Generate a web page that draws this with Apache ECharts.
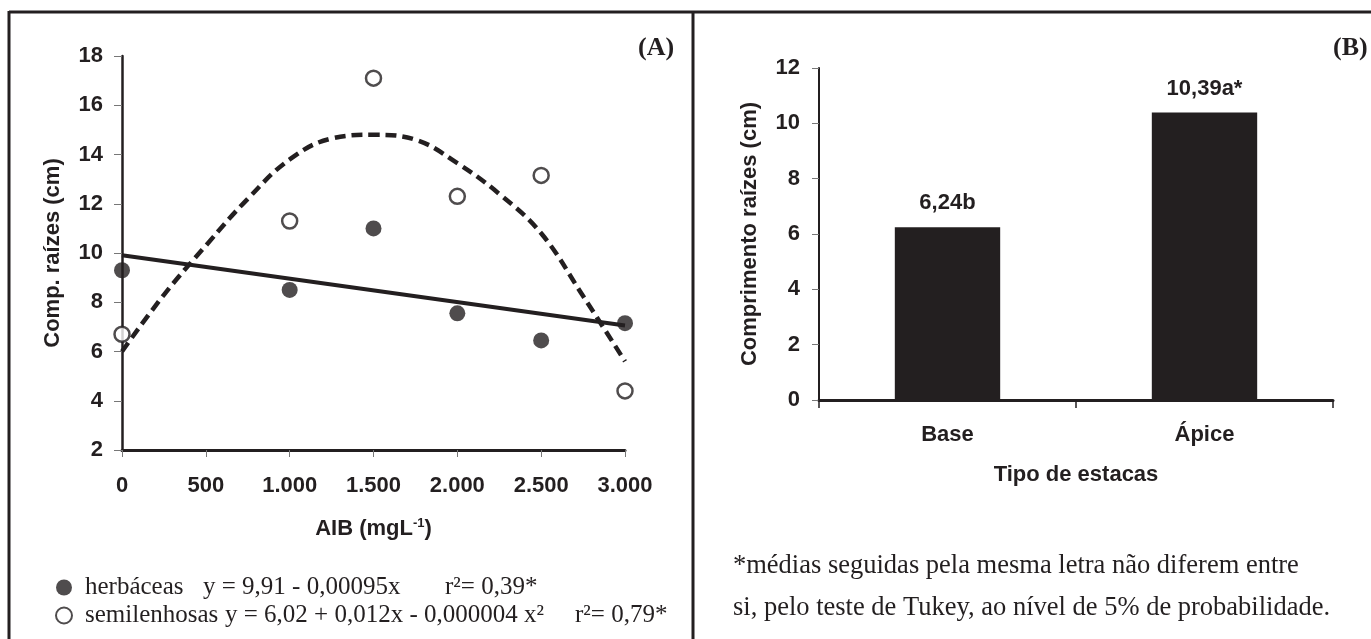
<!DOCTYPE html>
<html>
<head>
<meta charset="utf-8">
<script src="https://cdn.jsdelivr.net/npm/echarts@6/dist/echarts.min.js"></script>
<style>
html,body{margin:0;padding:0;background:#fff;}
#chart{width:1371px;height:639px;}
</style>
</head>
<body>
<div id="chart"></div>
<script>
// ---- Panel A data ----
var doses = [0, 1000, 1500, 2000, 2500, 3000];
var herbaceas = [9.3, 8.5, 11.0, 7.55, 6.45, 7.15];
var semilenhosas = [6.7, 11.3, 17.1, 12.3, 13.15, 4.4];
// fitted lines
var herbFitX = [0, 3000];
var herbFitY = [9.91, 7.06];
var semiFitX = [0, 250, 500, 750, 1000, 1250, 1500, 1750, 2000, 2250, 2500, 2750, 3000];
var semiFitY = [6.0, 8.3, 10.3, 12.2, 13.8, 14.65, 14.8, 14.6, 13.65, 12.4, 10.8, 8.25, 5.6];
var xTicksA = ['0', '500', '1.000', '1.500', '2.000', '2.500', '3.000'];

// ---- Panel B data ----
var tipos = ['Base', 'Ápice'];
var comprimento = [6.24, 10.39];
var barLabels = ['6,24b', '10,39a*'];

function pairs(xs, ys) { return xs.map(function (x, i) { return [x, ys[i]]; }); }

var INK = '#231f20';
var SANS = '"Liberation Sans", Arial, sans-serif';
var SERIF = '"Liberation Serif", "Times New Roman", serif';

var chart = echarts.init(document.getElementById('chart'), null, {renderer: 'canvas'});

var option = {
  backgroundColor: '#fff',
  animation: false,
  grid: [
    {left: 122, top: 56, width: 503, height: 394},
    {left: 819, top: 68, width: 514, height: 332}
  ],
  xAxis: [
    {
      gridIndex: 0, type: 'value', min: 0, max: 3000, interval: 500,
      name: 'AIB (mgL{sup|-1})', nameLocation: 'middle', nameGap: 67,
      nameTextStyle: {
        fontFamily: SANS, fontWeight: 'bold', fontSize: 22, color: INK,
        rich: {sup: {fontFamily: SANS, fontWeight: 'bold', fontSize: 13, color: INK, verticalAlign: 'top', padding: [0, 0, 10, 0]}}
      },
      axisLine: {show: true, lineStyle: {color: INK, width: 3}},
      axisTick: {show: true, length: 7, lineStyle: {color: '#777', width: 1}},
      splitLine: {show: false},
      axisLabel: {
        margin: 25, fontFamily: SANS, fontWeight: 'bold', fontSize: 22, color: INK,
        formatter: function (v) { return xTicksA[Math.round(v / 500)]; }
      }
    },
    {
      gridIndex: 1, type: 'category', data: tipos,
      name: 'Tipo de estacas', nameLocation: 'middle', nameGap: 64,
      nameTextStyle: {fontFamily: SANS, fontWeight: 'bold', fontSize: 22, color: INK},
      axisLine: {show: true, lineStyle: {color: INK, width: 3}},
      axisTick: {show: true, length: 8, alignWithLabel: false, lineStyle: {color: INK, width: 1.5}},
      axisLabel: {margin: 24, fontFamily: SANS, fontWeight: 'bold', fontSize: 22, color: INK}
    }
  ],
  yAxis: [
    {
      gridIndex: 0, type: 'value', min: 2, max: 18, interval: 2,
      name: 'Comp. raízes (cm)', nameLocation: 'middle', nameGap: 58,
      nameTextStyle: {fontFamily: SANS, fontWeight: 'bold', fontSize: 22, color: INK},
      axisLine: {show: true, lineStyle: {color: INK, width: 2.5}},
      axisTick: {show: true, length: 8, lineStyle: {color: '#777', width: 1}},
      splitLine: {show: false},
      axisLabel: {margin: 19, fontFamily: SANS, fontWeight: 'bold', fontSize: 22, color: INK}
    },
    {
      gridIndex: 1, type: 'value', min: 0, max: 12, interval: 2,
      name: 'Comprimento raízes (cm)', nameLocation: 'middle', nameGap: 58,
      nameTextStyle: {fontFamily: SANS, fontWeight: 'bold', fontSize: 22, color: INK},
      axisLine: {show: true, lineStyle: {color: INK, width: 2}},
      axisTick: {show: true, length: 7, lineStyle: {color: '#777', width: 1}},
      splitLine: {show: false},
      axisLabel: {margin: 19, fontFamily: SANS, fontWeight: 'bold', fontSize: 22, color: INK}
    }
  ],
  legend: {
    data: ['herbáceas', 'semilenhosas'],
    orient: 'vertical', left: 50, top: 570,
    itemWidth: 32, itemHeight: 16, itemGap: 3,
    selectedMode: false,
    textStyle: {
      fontFamily: SERIF, fontSize: 25, color: INK, lineHeight: 25,
      rich: {
        n1: {fontFamily: SERIF, fontSize: 25, color: INK, width: 118},
        n2: {fontFamily: SERIF, fontSize: 25, color: INK, width: 140},
        f1: {fontFamily: SERIF, fontSize: 25, color: INK, width: 242},
        f2: {fontFamily: SERIF, fontSize: 25, color: INK, width: 350},
        r: {fontFamily: SERIF, fontSize: 25, color: INK}
      }
    },
    formatter: function (name) {
      if (name === 'herbáceas') {
        return '{n1|herbáceas}{f1|y = 9,91 - 0,00095x}{r|r²= 0,39*}';
      }
      return '{n2|semilenhosas}{f2|y = 6,02 + 0,012x - 0,000004 x²}{r|r²= 0,79*}';
    }
  },
  graphic: [
    {type: 'line', shape: {x1: 9, y1: 12, x2: 1371, y2: 12}, style: {stroke: INK, lineWidth: 3}},
    {type: 'line', shape: {x1: 9, y1: 11, x2: 9, y2: 639}, style: {stroke: INK, lineWidth: 3}},
    {type: 'line', shape: {x1: 693, y1: 11, x2: 693, y2: 639}, style: {stroke: INK, lineWidth: 3}},
    {type: 'text', left: 638, top: 35, style: {text: '(A)', fontFamily: SERIF, fontWeight: 'bold', fontSize: 26, fill: INK}},
    {type: 'text', left: 1333, top: 35, style: {text: '(B)', fontFamily: SERIF, fontWeight: 'bold', fontSize: 26, fill: INK}},
    {type: 'text', left: 733, top: 553, style: {text: '*médias seguidas pela mesma letra não diferem entre', fontFamily: SERIF, fontSize: 26.5, fill: INK}},
    {type: 'text', left: 733, top: 595, style: {text: 'si, pelo teste de Tukey, ao nível de 5% de probabilidade.', fontFamily: SERIF, fontSize: 26.5, fill: INK}}
  ],
  series: [
    {
      name: 'fit herbáceas', type: 'line', xAxisIndex: 0, yAxisIndex: 0,
      data: pairs(herbFitX, herbFitY), showSymbol: false, symbol: 'none',
      lineStyle: {color: INK, width: 4}, z: 2, silent: true
    },
    {
      name: 'fit semilenhosas', type: 'line', xAxisIndex: 0, yAxisIndex: 0,
      data: pairs(semiFitX, semiFitY), showSymbol: false, symbol: 'none', smooth: 0.4,
      lineStyle: {color: INK, width: 4.5, type: [11, 6]}, z: 2, silent: true
    },
    {
      name: 'herbáceas', type: 'scatter', xAxisIndex: 0, yAxisIndex: 0,
      data: pairs(doses, herbaceas), symbol: 'circle', symbolSize: 16,
      itemStyle: {color: INK}, z: 3
    },
    {
      name: 'semilenhosas', type: 'scatter', xAxisIndex: 0, yAxisIndex: 0,
      data: pairs(doses, semilenhosas), symbol: 'circle', symbolSize: 15,
      itemStyle: {color: '#fff', borderColor: INK, borderWidth: 2.5}, z: 3
    },
    {
      name: 'Comprimento', type: 'bar', xAxisIndex: 1, yAxisIndex: 1,
      data: comprimento, barWidth: '41%',
      itemStyle: {color: INK},
      label: {
        show: true, position: 'top', distance: 13,
        fontFamily: SANS, fontWeight: 'bold', fontSize: 22, color: INK,
        formatter: function (p) { return barLabels[p.dataIndex]; }
      }
    }
  ]
};
chart.setOption(option);
</script>
</body>
</html>
